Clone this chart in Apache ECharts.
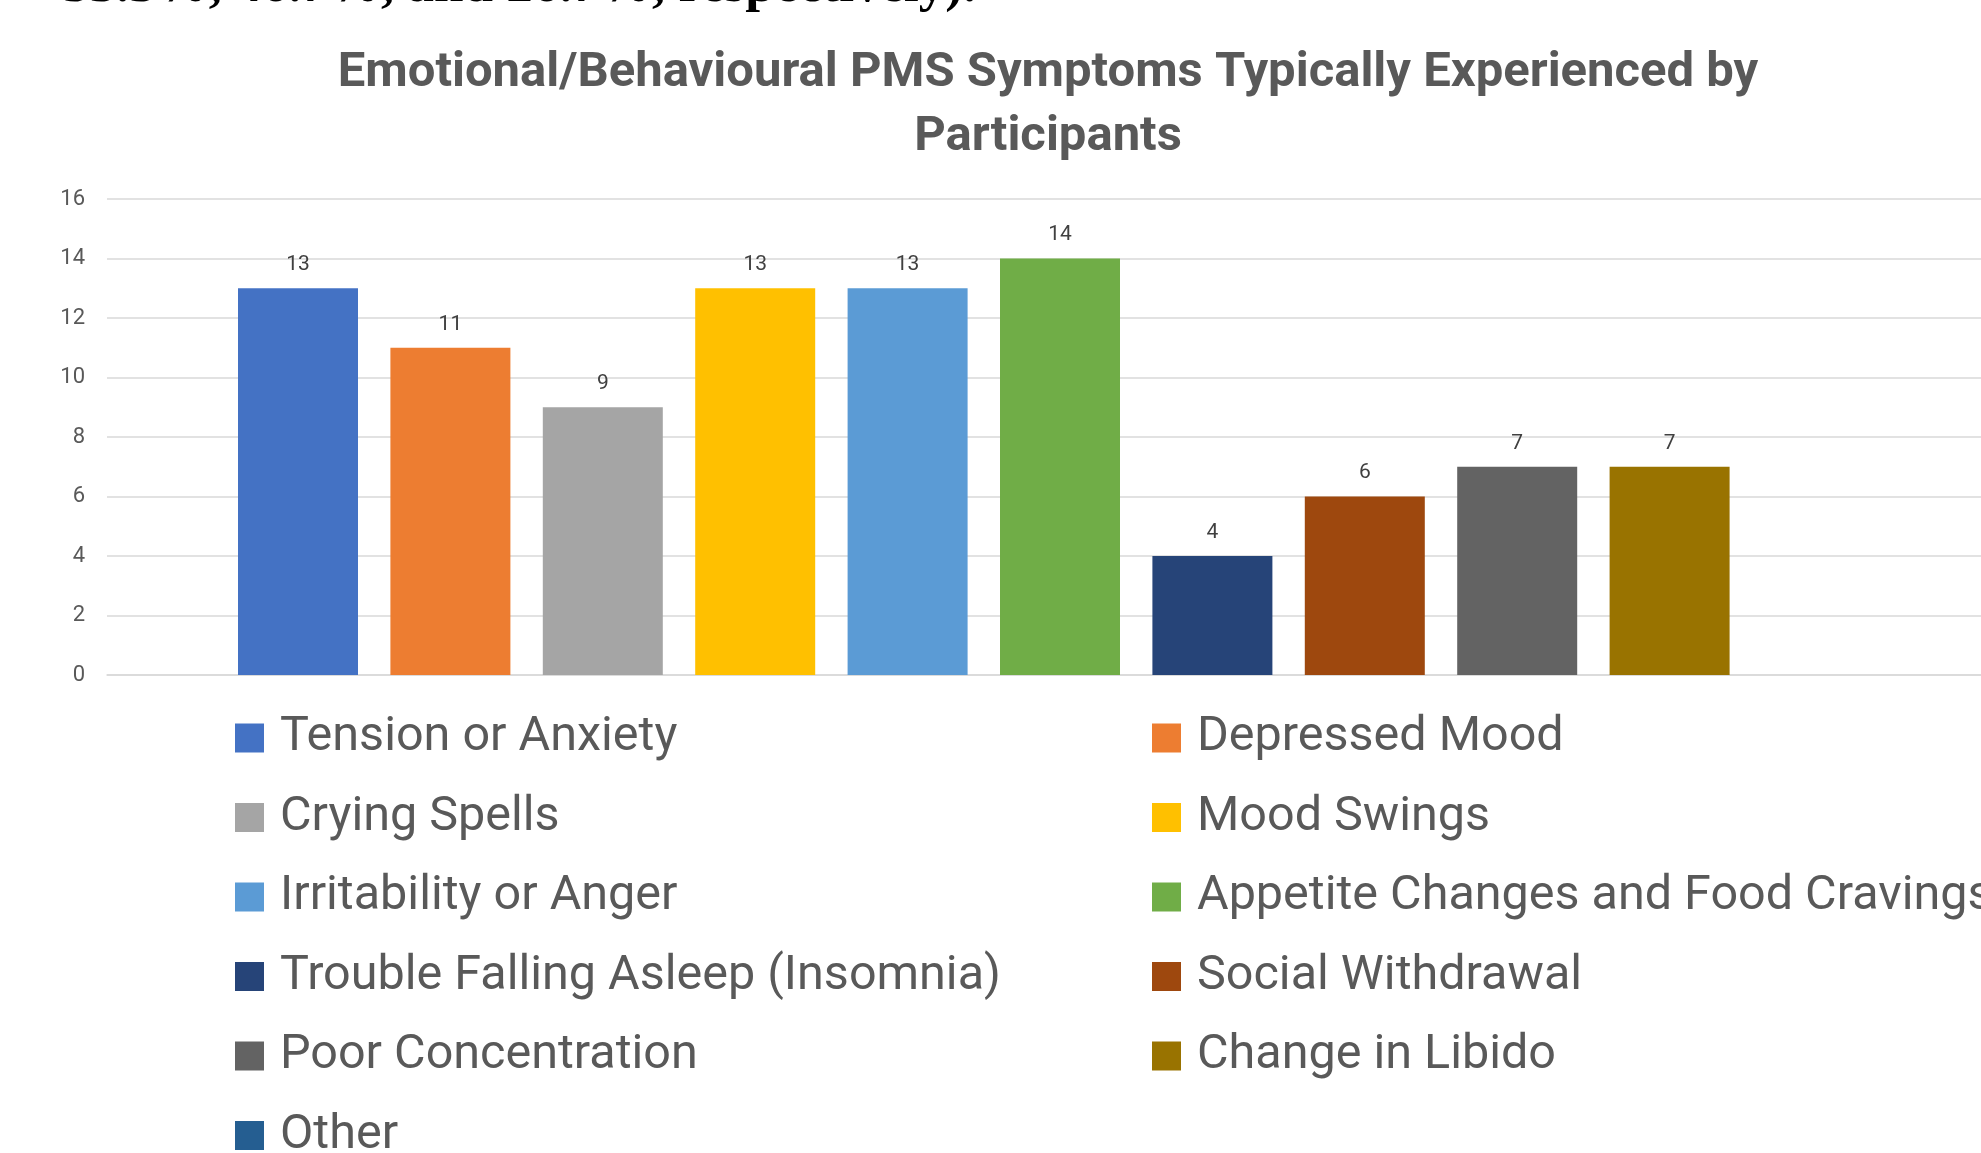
<!DOCTYPE html>
<html>
<head>
<meta charset="utf-8">
<script src="https://cdn.jsdelivr.net/npm/echarts@6/dist/echarts.min.js"></script>
<style>
  html, body { margin: 0; padding: 0; background: #fff; overflow: hidden; }
  #chart { width: 1981px; height: 1153px; }
</style>
</head>
<body>
<div id="chart"></div>
<script>
// symptoms and how many participants reported each
const symptoms = [
  "Tension or Anxiety",
  "Depressed Mood",
  "Crying Spells",
  "Mood Swings",
  "Irritability or Anger",
  "Appetite Changes and Food Cravings",
  "Trouble Falling Asleep (Insomnia)",
  "Social Withdrawal",
  "Poor Concentration",
  "Change in Libido",
  "Other"
]
const counts = [13, 11, 9, 13, 13, 14, 4, 6, 7, 7, 0]
const colors = ["#4472C4", "#ED7D31", "#A5A5A5", "#FFC000", "#5B9BD5", "#70AD47", "#264478", "#9E480E", "#636363", "#997300", "#255E91"]

const yMin = 0
const yMax = 16
const yStep = 2

const titleText = "Emotional/Behavioural PMS Symptoms Typically Experienced by\nParticipants"
const headText = "53.3%, 46.7%, and 26.7%, respectively)."

const textFont = "Roboto, 'Open Sans', sans-serif"

const chart = echarts.init(document.getElementById("chart"))

// legend is laid out in two columns, filled row by row
const leftCol = symptoms.filter((_, i) => i % 2 === 0)
const rightCol = symptoms.filter((_, i) => i % 2 === 1)

const legendBase = {
  orient: "vertical",
  top: 713,
  height: 600,
  padding: 0,
  icon: "rect",
  itemWidth: 29,
  itemHeight: 29,
  itemGap: 29.5,
  selectedMode: false,
  textStyle: {
    fontFamily: textFont,
    fontSize: 48.5,
    lineHeight: 50,
    color: "#595959",
    padding: [0, 0, 0, 11]
  }
}

const option = {
  animation: false,
  backgroundColor: "#fff",
  title: {
    text: titleText,
    left: 1043,
    top: 37,
    textAlign: "center",
    textStyle: {
      fontFamily: textFont,
      fontSize: 49,
      fontWeight: "bold",
      lineHeight: 64,
      color: "#595959"
    }
  },
  graphic: [
    {
      type: "text",
      left: 63,
      top: -39,
      style: {
        text: headText,
        font: "bold 53px 'Liberation Serif', serif",
        fill: "#000"
      }
    }
  ],
  legend: [
    Object.assign({}, legendBase, { left: 235, data: leftCol }),
    Object.assign({}, legendBase, { left: 1152, data: rightCol })
  ],
  grid: {
    left: 107,
    right: -32,
    top: 199,
    bottom: 478,
    containLabel: false,
    outerBoundsMode: "none"
  },
  xAxis: {
    type: "category",
    data: [""],
    axisTick: { show: false },
    axisLabel: { show: false },
    axisLine: { lineStyle: { color: "#d9d9d9", width: 1.5 } }
  },
  yAxis: {
    type: "value",
    min: yMin,
    max: yMax,
    interval: yStep,
    axisLine: { show: false },
    axisTick: { show: false },
    axisLabel: {
      margin: 22,
      fontFamily: textFont,
      fontSize: 22,
      color: "#595959"
    },
    splitLine: { lineStyle: { color: "#d9d9d9", width: 1.5 } }
  },
  series: symptoms.map((name, i) => ({
    name: name,
    type: "bar",
    data: [counts[i]],
    barWidth: 120,
    barGap: "27%",
    itemStyle: { color: colors[i] },
    label: {
      show: counts[i] > 0,
      position: "top",
      distance: 13,
      fontFamily: textFont,
      fontSize: 21,
      color: "#404040"
    }
  }))
}

chart.setOption(option)
</script>
</body>
</html>
